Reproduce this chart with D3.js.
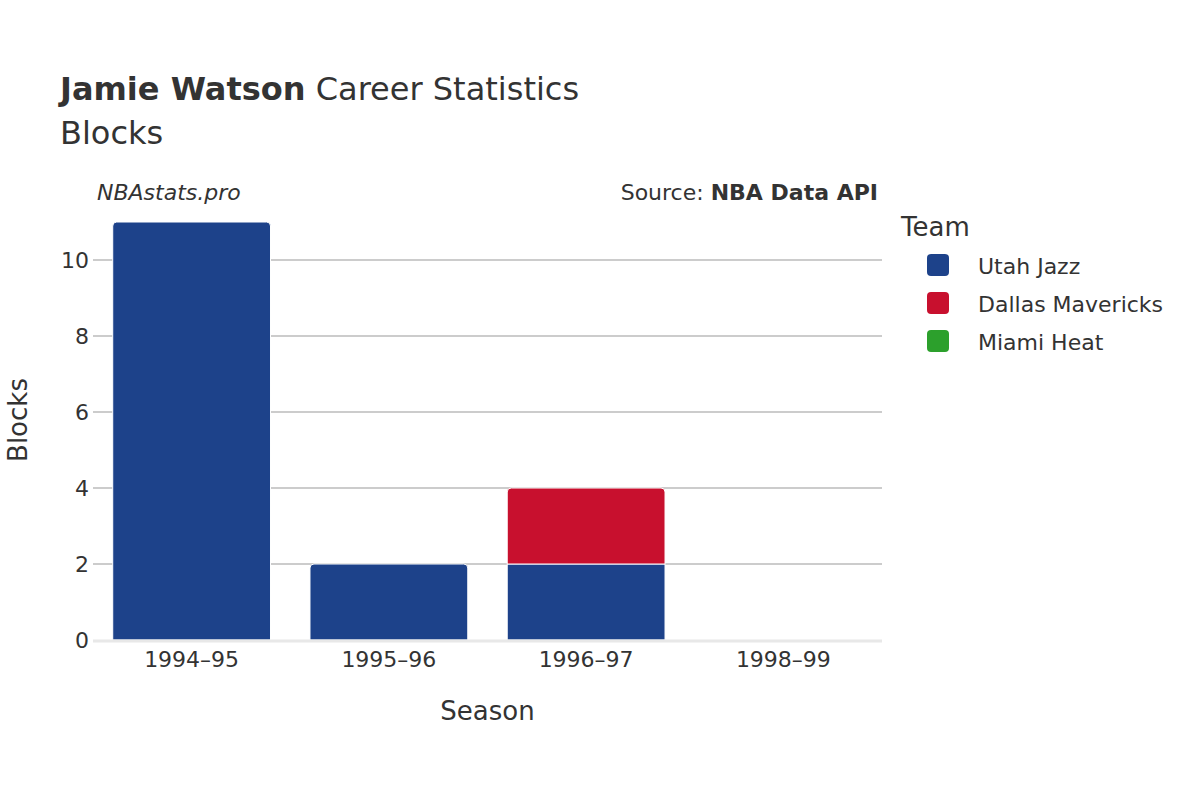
<!DOCTYPE html>
<html><head><meta charset="utf-8">
<script src="https://cdn.jsdelivr.net/npm/d3@7"></script>
<style>body{margin:0;background:#fff}text{font-family:"DejaVu Sans",sans-serif}</style>
</head><body><svg id="c" width="1200" height="800"></svg>
<script>
const seasons = ["1994–95","1995–96","1996–97","1998–99"];
const teams = ["Utah Jazz","Dallas Mavericks","Miami Heat"];
const colors = ["#1d428a","#c8102e","#2ca02c"];
const utah = [11,2,2,0];
const dallas = [0,0,2,0];
const miami = [0,0,0,0];
const yTicks = [0,2,4,6,8,10];

const svg = d3.select("#c");
const L=93,R=882,T=203,B=640;
const x = d3.scaleBand().domain(seasons).range([L,R]).paddingInner(0.2).paddingOuter(0.1);
const y = d3.scaleLinear().domain([0,11.5]).range([B,T]);

svg.append("text").attr("x",60).attr("y",100).attr("font-size",32).attr("fill","#333")
  .html('<tspan font-weight="bold">Jamie Watson</tspan> Career Statistics');
svg.append("text").attr("x",60).attr("y",144).attr("font-size",32).attr("fill","#333").text("Blocks");
svg.append("text").attr("x",97).attr("y",200).attr("font-size",22).attr("font-style","italic").attr("fill","#333").text("NBAstats.pro");
svg.append("text").attr("x",878).attr("y",200).attr("font-size",22).attr("text-anchor","end").attr("fill","#333")
  .html('Source: <tspan font-weight="bold">NBA Data API</tspan>');

svg.selectAll(".g").data(yTicks.filter(d=>d>0)).join("line")
  .attr("x1",L).attr("x2",R).attr("y1",d=>y(d)).attr("y2",d=>y(d)).attr("stroke","#bbb").attr("stroke-width",1.5);
svg.selectAll(".yt").data(yTicks).join("text").attr("x",L-4).attr("y",d=>y(d)+8).attr("text-anchor","end")
  .attr("font-size",22).attr("fill","#333").text(d=>d);

const series = [utah,dallas,miami];
function rtop(x0,y0,w,h,r){r=Math.min(r,h/2,w/2);return `M${x0},${y0+h}V${y0+r}Q${x0},${y0} ${x0+r},${y0}H${x0+w-r}Q${x0+w},${y0} ${x0+w},${y0+r}V${y0+h}Z`;}
seasons.forEach((s,i)=>{
  let base=0;
  series.forEach((arr,k)=>{
    const v=arr[i]; if(!v) return;
    const top = series.slice(k+1).every(a=>!a[i]);
    const y0=y(base+v), h=y(base)-y(base+v);
    svg.append("path").attr("d", top? rtop(x(s),y0,x.bandwidth(),h,4) : `M${x(s)},${y0}h${x.bandwidth()}v${h}h${-x.bandwidth()}Z`)
      .attr("fill",colors[k]).attr("stroke","#fff").attr("stroke-width",1);
    base+=v;
  });
});
svg.append("line").attr("x1",L).attr("x2",R).attr("y1",B+1).attr("y2",B+1).attr("stroke","#e8e8e8").attr("stroke-width",3);

svg.selectAll(".xt").data(seasons).join("text").attr("x",d=>x(d)+x.bandwidth()/2).attr("y",667)
  .attr("text-anchor","middle").attr("font-size",22).attr("fill","#333").text(d=>d);
svg.append("text").attr("x",(L+R)/2).attr("y",720).attr("text-anchor","middle").attr("font-size",26).attr("fill","#333").text("Season");
svg.append("text").attr("transform","translate(27,420) rotate(-90)").attr("text-anchor","middle").attr("font-size",26).attr("fill","#333").text("Blocks");

svg.append("text").attr("x",901).attr("y",236).attr("font-size",26).attr("fill","#333").text("Team");
teams.forEach((t,i)=>{
  svg.append("rect").attr("x",927).attr("y",254+i*38).attr("width",22).attr("height",22).attr("rx",4).attr("fill",colors[i]);
  svg.append("text").attr("x",978).attr("y",274+i*38).attr("font-size",22).attr("fill","#333").text(t);
});
</script></body></html>
